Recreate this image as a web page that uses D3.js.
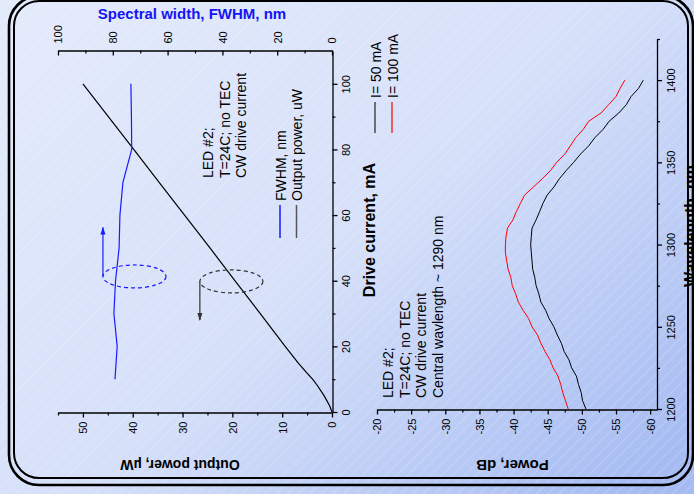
<!DOCTYPE html>
<html>
<head>
<meta charset="utf-8">
<script src="https://cdn.jsdelivr.net/npm/d3@7"></script>
<style>
  html, body { margin: 0; padding: 0; background: #dfe7f9; }
  svg { display: block; }
</style>
</head>
<body>
<div id="chart"></div>
<script>
// --- 1. data ---
// left panel: output power and FWHM vs drive current
const driveCurrent = [0, 2, 5, 8, 10, 12, 15, 20, 30, 40, 50, 60, 70, 80, 90, 100];
const outputPower = [0, 0.5, 1.6, 2.9, 3.9, 5.1, 6.8, 9.4, 14.4, 19.5, 24.5, 29.6, 34.7, 39.8, 44.9, 50.0];
const fwhmCurrent = [10, 20, 30, 40, 50, 60, 70, 80, 90, 100];
const fwhmValues = [79.2, 78.4, 79.6, 79.0, 77.7, 77.4, 76.3, 73.1, 73.2, 73.4];

// right panel: spectra at 50 and 100 mA
const wavelengthNm = [1200, 1205, 1210, 1215, 1220, 1225, 1230, 1235, 1240, 1245,
                      1250, 1255, 1260, 1265, 1270, 1275, 1280, 1285, 1290, 1295,
                      1300, 1305, 1310, 1315, 1320, 1325, 1330, 1335, 1340, 1345,
                      1350, 1355, 1360, 1365, 1370, 1375, 1380, 1385, 1390, 1395, 1400];
const power50mA = [-50.6, -50.1, -49.9, -49.5, -49.2, -48.5, -48.1, -47.4, -47.0, -46.4,
                   -45.9, -45.2, -44.7, -44.0, -43.7, -43.3, -43.1, -42.8, -42.7, -42.6,
                   -42.5, -42.6, -42.7, -43.3, -43.8, -44.3, -44.9, -45.9, -46.7, -47.7,
                   -48.8, -49.8, -51.0, -51.9, -53.1, -54.0, -55.4, -56.5, -57.2, -58.3, -59.0];
const power100mA = [-48.0, -47.6, -47.2, -46.9, -46.5, -45.8, -45.3, -44.6, -44.0, -43.5,
                    -42.7, -42.2, -41.4, -40.7, -40.3, -39.8, -39.6, -39.2, -39.0, -38.8,
                    -38.8, -38.9, -39.1, -39.9, -40.4, -41.0, -41.6, -42.9, -44.2, -45.4,
                    -46.3, -47.5, -48.3, -49.1, -50.2, -51.0, -52.8, -53.9, -55.0, -55.6, -56.3];

// tick values
const currentTicks = [0, 20, 40, 60, 80, 100];
const currentMinor = [10, 30, 50, 70, 90];
const fwhmTicks = [0, 20, 40, 60, 80, 100];
const fwhmMinor = [10, 30, 50, 70, 90];
const powerTicks = [0, 10, 20, 30, 40, 50];
const powerMinor = [5, 15, 25, 35, 45, 55];
const dbTicks = [-20, -25, -30, -35, -40, -45, -50, -55, -60];
const dbMinor = [-22.5, -27.5, -32.5, -37.5, -42.5, -47.5, -52.5, -57.5];
const waveTicks = [1200, 1250, 1300, 1350, 1400];
const waveMinor = [1225, 1275, 1325, 1375, 1425];

// texts
const leftNote = ["LED #2;", "T=24C; no TEC", "CW drive current"];
const rightNote = ["LED #2;", "T=24C; no TEC", "CW drive current", "Central wavlength ~ 1290 nm"];
const leftLegend = [{ label: "FWHM, nm", color: "#1a1aff" }, { label: "Output power, uW", color: "#555" }];
const rightLegend = [{ label: "I= 50 mA", color: "#222" }, { label: "I= 100 mA", color: "#ff0000" }];

const FONT = "'Liberation Sans', Arial, Helvetica, sans-serif";

// --- 2. svg + slide background ---
const W = 694, H = 494;
const svg = d3.select("#chart").append("svg")
    .attr("width", W)
    .attr("height", H)
    .attr("viewBox", `0 0 ${W} ${H}`)
    .style("font-family", FONT);

const defs = svg.append("defs");
const grad = defs.append("linearGradient").attr("id", "bg")
    .attr("x1", 0).attr("y1", 0.1).attr("x2", 1).attr("y2", 0.9);
grad.append("stop").attr("offset", 0).attr("stop-color", "#e3eafb");
grad.append("stop").attr("offset", 0.5).attr("stop-color", "#d6e0f9");
grad.append("stop").attr("offset", 1).attr("stop-color", "#a5bbf2");

const hatch = defs.append("pattern").attr("id", "hatch")
    .attr("patternUnits", "userSpaceOnUse")
    .attr("width", 8).attr("height", 8)
    .attr("patternTransform", "rotate(45)");
hatch.append("line")
    .attr("x1", 0).attr("y1", 0).attr("x2", 0).attr("y2", 8)
    .attr("stroke", "#fff").attr("stroke-width", 0.8).attr("stroke-opacity", 0.45);

// arrow heads
[["arrBlue", "#1a1aff"], ["arrBlack", "#333"]].forEach(([id, c]) => {
    defs.append("marker").attr("id", id)
        .attr("markerUnits", "userSpaceOnUse")
        .attr("markerWidth", 8).attr("markerHeight", 6)
        .attr("refX", 7).attr("refY", 3).attr("orient", "auto")
        .append("path").attr("d", "M0,0.5 L8,3 L0,5.5 Z").attr("fill", c);
});

svg.append("rect").attr("width", W).attr("height", H).attr("fill", "url(#bg)");
svg.append("rect").attr("width", W).attr("height", H).attr("fill", "url(#hatch)");

// double rounded frame
svg.append("rect")
    .attr("x", 9).attr("y", -4).attr("width", 684).attr("height", 489).attr("rx", 30)
    .attr("fill", "none").attr("stroke", "#000").attr("stroke-width", 2.6);
svg.append("rect")
    .attr("x", 14).attr("y", 1).attr("width", 674).attr("height", 477).attr("rx", 25)
    .attr("fill", "none").attr("stroke", "#000").attr("stroke-width", 2);

// --- 3. scales (slide is turned 90 degrees, so axes are swapped on screen) ---
const yCurrent = d3.scaleLinear().domain([0, 110]).range([412, 51]);
const xFwhm = d3.scaleLinear().domain([0, 100]).range([332, 58]);
const xPower = d3.scaleLinear().domain([0, 55]).range([332, 58]);
const yWave = d3.scaleLinear().domain([1200, 1425]).range([409, 39]);
const xDb = d3.scaleLinear().domain([-20, -61]).range([377, 657]);

const fmt = d => String(d);

function styleAxis(g) {
    g.selectAll("path, line").attr("stroke", "#000").attr("stroke-width", 1.3);
    g.selectAll("text").attr("font-size", 11).attr("font-family", FONT).attr("fill", "#000");
    g.attr("font-family", null).attr("font-size", null);
}
function minor(g) {
    g.select(".domain").remove();
    g.selectAll("text").remove();
    g.selectAll("line").attr("stroke", "#000").attr("stroke-width", 1.2);
}

// --- 4. left panel axes ---
// drive current (vertical, labels on the right)
svg.append("g").attr("transform", "translate(332.5,0)")
    .call(d3.axisRight(yCurrent).tickValues(currentTicks).tickFormat(fmt).tickSizeInner(5).tickSizeOuter(0))
    .call(styleAxis)
    .call(g => g.selectAll(".tick text")
        .attr("x", null).attr("dy", null).attr("text-anchor", "middle")
        .attr("transform", "translate(17,0) rotate(-90)"));
svg.append("g").attr("transform", "translate(332.5,0)")
    .call(d3.axisRight(yCurrent).tickValues(currentMinor).tickSize(3))
    .call(minor);

// FWHM (top)
svg.append("g").attr("transform", "translate(0,50.5)")
    .call(d3.axisTop(xFwhm).tickValues(fwhmTicks).tickFormat(fmt).tickSizeInner(-5).tickSizeOuter(0))
    .call(styleAxis)
    .call(g => g.selectAll(".tick text")
        .attr("y", null).attr("dy", "0.35em").attr("text-anchor", "start")
        .attr("transform", "translate(0,-7) rotate(-90)"));
svg.append("g").attr("transform", "translate(0,50.5)")
    .call(d3.axisTop(xFwhm).tickValues(fwhmMinor).tickSize(-3))
    .call(minor);

// output power (bottom)
svg.append("g").attr("transform", "translate(0,412.5)")
    .call(d3.axisBottom(xPower).tickValues(powerTicks).tickFormat(fmt).tickSizeInner(5).tickSizeOuter(0))
    .call(styleAxis)
    .call(g => g.selectAll(".tick text")
        .attr("y", null).attr("dy", "0.35em").attr("text-anchor", "end")
        .attr("transform", "translate(0,9) rotate(-90)"));
svg.append("g").attr("transform", "translate(0,412.5)")
    .call(d3.axisBottom(xPower).tickValues(powerMinor).tickSize(3))
    .call(minor);

// axis titles
svg.append("text")
    .attr("transform", "translate(192,18.5)")
    .attr("text-anchor", "middle")
    .attr("font-size", 15).attr("font-weight", "bold").attr("fill", "#1414f5")
    .text("Spectral width, FWHM, nm");
svg.append("text")
    .attr("transform", "translate(180,459.5) rotate(180)")
    .attr("text-anchor", "middle")
    .attr("font-size", 14).attr("font-weight", "bold")
    .text("Output power, \u00b5W");
svg.append("text")
    .attr("transform", "translate(375,230) rotate(-90)")
    .attr("text-anchor", "middle")
    .attr("font-size", 16).attr("font-weight", "bold")
    .text("Drive current, mA");

// --- 5. left panel lines ---
const powerLine = d3.line()
    .x((d, i) => xPower(outputPower[i]))
    .y(d => yCurrent(d));
svg.append("path")
    .datum(driveCurrent)
    .attr("d", powerLine)
    .attr("fill", "none").attr("stroke", "#000").attr("stroke-width", 1.2);

const fwhmLine = d3.line()
    .x((d, i) => xFwhm(fwhmValues[i]))
    .y(d => yCurrent(d));
svg.append("path")
    .datum(fwhmCurrent)
    .attr("d", fwhmLine)
    .attr("fill", "none").attr("stroke", "#1a1aff").attr("stroke-width", 1.2);

// dashed ellipses with arrows pointing at the matching axis
const blueEll = { current: 41.3, fwhm: 72.1 };
svg.append("ellipse")
    .attr("cx", xFwhm(blueEll.fwhm)).attr("cy", yCurrent(blueEll.current))
    .attr("rx", 31.5).attr("ry", 11.5)
    .attr("fill", "none").attr("stroke", "#1a1aff").attr("stroke-width", 1.2)
    .attr("stroke-dasharray", "4,3");
svg.append("line")
    .attr("x1", xFwhm(blueEll.fwhm) - 31.5).attr("y1", yCurrent(blueEll.current))
    .attr("x2", xFwhm(blueEll.fwhm) - 31.5).attr("y2", yCurrent(56.2))
    .attr("stroke", "#1a1aff").attr("stroke-width", 1.2)
    .attr("marker-end", "url(#arrBlue)");

const blackEll = { current: 39.8, power: 20.2 };
svg.append("ellipse")
    .attr("cx", xPower(blackEll.power)).attr("cy", yCurrent(blackEll.current))
    .attr("rx", 31.5).attr("ry", 11.5)
    .attr("fill", "none").attr("stroke", "#333").attr("stroke-width", 1.2)
    .attr("stroke-dasharray", "4,3");
svg.append("line")
    .attr("x1", xPower(blackEll.power) - 31.5).attr("y1", yCurrent(blackEll.current))
    .attr("x2", xPower(blackEll.power) - 31.5).attr("y2", yCurrent(28))
    .attr("stroke", "#333").attr("stroke-width", 1.2)
    .attr("marker-end", "url(#arrBlack)");

// note + legend (text runs bottom to top)
svg.selectAll(".note-left")
    .data(leftNote).enter().append("text")
    .attr("class", "note-left")
    .attr("transform", (d, i) => `translate(${213 + i * 16.5},178) rotate(-90)`)
    .attr("font-size", 14)
    .text(d => d);

leftLegend.forEach((d, i) => {
    const bx = 285.5 + i * 16.5;
    svg.append("line")
        .attr("x1", bx - 5.5).attr("x2", bx - 5.5).attr("y1", 205).attr("y2", 238)
        .attr("stroke", d.color).attr("stroke-width", 1.5);
    svg.append("text")
        .attr("transform", `translate(${bx},201) rotate(-90)`)
        .attr("font-size", 14)
        .text(d.label);
});

// --- 6. right panel axes ---
svg.append("g").attr("transform", "translate(0,409.5)")
    .call(d3.axisBottom(xDb).tickValues(dbTicks).tickFormat(fmt).tickSizeInner(5).tickSizeOuter(0))
    .call(styleAxis)
    .call(g => g.selectAll(".tick text")
        .attr("y", null).attr("dy", "0.35em").attr("text-anchor", "end")
        .attr("transform", "translate(0,9) rotate(-90)"));
svg.append("g").attr("transform", "translate(0,409.5)")
    .call(d3.axisBottom(xDb).tickValues(dbMinor).tickSize(3))
    .call(minor);

svg.append("g").attr("transform", "translate(657,0)")
    .call(d3.axisRight(yWave).tickValues(waveTicks).tickFormat(fmt).tickSizeInner(5).tickSizeOuter(0))
    .call(styleAxis)
    .call(g => g.selectAll(".tick text")
        .attr("x", null).attr("dy", null).attr("text-anchor", "middle")
        .attr("transform", "translate(17.5,0) rotate(-90)"));
svg.append("g").attr("transform", "translate(657,0)")
    .call(d3.axisRight(yWave).tickValues(waveMinor).tickSize(3))
    .call(minor);

svg.append("text")
    .attr("transform", "translate(512.5,459.5) rotate(180)")
    .attr("text-anchor", "middle")
    .attr("font-size", 15).attr("font-weight", "bold")
    .text("Power, dB");
// this title runs off the slide edge, as on the original picture
svg.append("text")
    .attr("transform", "translate(696,226) rotate(-90)")
    .attr("text-anchor", "middle")
    .attr("font-size", 16).attr("font-weight", "bold")
    .text("Wavelength, nm");

// --- 7. spectra ---
const specLine = vals => d3.line()
    .x((d, i) => xDb(vals[i]))
    .y(d => yWave(d));
svg.append("path")
    .datum(wavelengthNm)
    .attr("d", specLine(power50mA))
    .attr("fill", "none").attr("stroke", "#000").attr("stroke-width", 1);
svg.append("path")
    .datum(wavelengthNm)
    .attr("d", specLine(power100mA))
    .attr("fill", "none").attr("stroke", "#ff0000").attr("stroke-width", 1);

svg.selectAll(".note-right")
    .data(rightNote).enter().append("text")
    .attr("class", "note-right")
    .attr("transform", (d, i) => `translate(${393 + i * 16.5},398) rotate(-90)`)
    .attr("font-size", 14)
    .text(d => d);

rightLegend.forEach((d, i) => {
    const bx = 380.5 + i * 17;
    svg.append("line")
        .attr("x1", bx - 5.5).attr("x2", bx - 5.5).attr("y1", 102).attr("y2", 133)
        .attr("stroke", d.color).attr("stroke-width", 1.2);
    svg.append("text")
        .attr("transform", `translate(${bx},98) rotate(-90)`)
        .attr("font-size", 14)
        .text(d.label);
});
</script>
</body>
</html>
